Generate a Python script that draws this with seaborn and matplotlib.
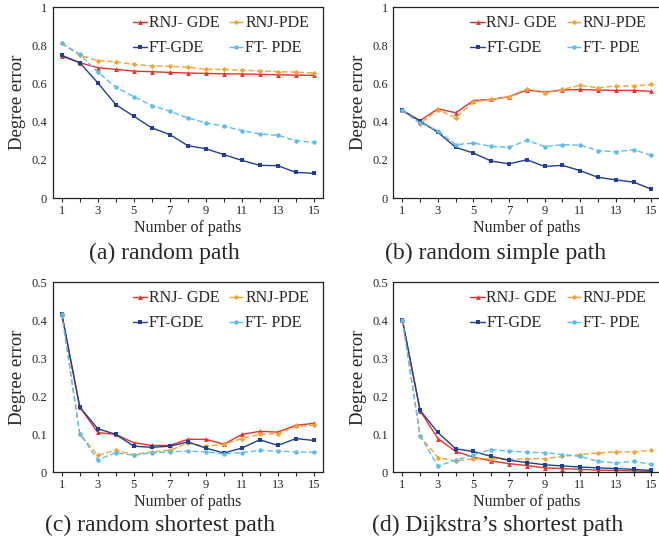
import numpy as np
import pandas as pd
import matplotlib
matplotlib.use("Agg")
import matplotlib.pyplot as plt
import seaborn as sns

paths = list(range(1, 16))
series_names = ["RNJ- GDE", "RNJ-PDE", "FT-GDE", "FT- PDE"]

# (a) random path
a_rnj_gde = [0.744, 0.709, 0.683, 0.674, 0.665, 0.662, 0.658, 0.655, 0.653, 0.651, 0.650, 0.648, 0.646, 0.644, 0.643]
a_rnj_pde = [0.810, 0.748, 0.720, 0.714, 0.700, 0.693, 0.690, 0.686, 0.674, 0.674, 0.669, 0.667, 0.662, 0.660, 0.655]
a_ft_gde = [0.748, 0.709, 0.604, 0.490, 0.429, 0.368, 0.333, 0.275, 0.259, 0.228, 0.198, 0.172, 0.170, 0.135, 0.130]
a_ft_pde = [0.810, 0.753, 0.660, 0.581, 0.531, 0.485, 0.455, 0.420, 0.394, 0.377, 0.354, 0.336, 0.329, 0.301, 0.292]

# (b) random simple path
b_rnj_gde = [0.459, 0.406, 0.468, 0.447, 0.511, 0.517, 0.531, 0.566, 0.555, 0.566, 0.569, 0.566, 0.564, 0.564, 0.559]
b_rnj_pde = [0.459, 0.390, 0.464, 0.420, 0.504, 0.517, 0.531, 0.573, 0.552, 0.569, 0.590, 0.578, 0.587, 0.587, 0.595]
b_ft_gde = [0.459, 0.403, 0.345, 0.266, 0.236, 0.194, 0.180, 0.201, 0.166, 0.172, 0.144, 0.109, 0.096, 0.084, 0.047]
b_ft_pde = [0.459, 0.394, 0.354, 0.280, 0.289, 0.271, 0.266, 0.303, 0.270, 0.280, 0.277, 0.249, 0.243, 0.254, 0.224]

# (c) random shortest path
c_rnj_gde = [0.417, 0.171, 0.104, 0.099, 0.077, 0.070, 0.070, 0.086, 0.086, 0.073, 0.099, 0.107, 0.105, 0.123, 0.128]
c_rnj_pde = [0.417, 0.101, 0.044, 0.057, 0.046, 0.053, 0.057, 0.076, 0.068, 0.073, 0.088, 0.099, 0.101, 0.120, 0.123]
c_ft_gde = [0.417, 0.171, 0.114, 0.099, 0.068, 0.065, 0.068, 0.079, 0.063, 0.050, 0.063, 0.085, 0.070, 0.088, 0.083]
c_ft_pde = [0.417, 0.101, 0.032, 0.051, 0.044, 0.051, 0.053, 0.055, 0.053, 0.048, 0.051, 0.057, 0.055, 0.053, 0.052]

# (d) Dijkstra's shortest path
d_rnj_gde = [0.401, 0.161, 0.088, 0.054, 0.039, 0.029, 0.022, 0.017, 0.011, 0.009, 0.007, 0.005, 0.004, 0.003, 0.001]
d_rnj_pde = [0.401, 0.095, 0.038, 0.029, 0.035, 0.035, 0.033, 0.035, 0.035, 0.041, 0.046, 0.050, 0.053, 0.053, 0.057]
d_ft_gde = [0.401, 0.162, 0.104, 0.061, 0.054, 0.041, 0.031, 0.025, 0.019, 0.016, 0.013, 0.011, 0.009, 0.007, 0.004]
d_ft_pde = [0.401, 0.095, 0.016, 0.031, 0.046, 0.059, 0.055, 0.052, 0.051, 0.046, 0.041, 0.028, 0.024, 0.028, 0.020]

captions = ["(a) random path", "(b) random simple path",
            "(c) random shortest path", "(d) Dijkstra\u2019s shortest path"]
panels = [
    [a_rnj_gde, a_rnj_pde, a_ft_gde, a_ft_pde],
    [b_rnj_gde, b_rnj_pde, b_ft_gde, b_ft_pde],
    [c_rnj_gde, c_rnj_pde, c_ft_gde, c_ft_pde],
    [d_rnj_gde, d_rnj_pde, d_ft_gde, d_ft_pde],
]
ymax = [1.0, 1.0, 0.5, 0.5]

colors = ["#E8322B", "#F5A236", "#1F3F95", "#5BBDEB"]
markers = ["^", "D", "s", "o"]
styles = ["-", "--", "-", "--"]
msizes = [3.5, 2.8, 3.2, 3.2]

sns.set_style("ticks")
plt.rcParams['font.family'] = ['Liberation Serif', 'DejaVu Serif']

fig = plt.figure(figsize=(6.59, 5.46), dpi=100)

# axes boxes (left, bottom, width, height) in figure fraction
boxes = [
    (0.080, 0.637, 0.410, 0.350),
    (0.597, 0.637, 0.405, 0.350),
    (0.080, 0.1355, 0.410, 0.348),
    (0.597, 0.1355, 0.405, 0.348),
]
caption_pos = [(0.25, 0.536), (0.752, 0.536), (0.243, 0.037), (0.755, 0.037)]

for i in range(4):
    ax = fig.add_axes(boxes[i])
    for j in range(4):
        sns.lineplot(x=paths, y=panels[i][j], ax=ax, color=colors[j],
                     marker=markers[j], markersize=msizes[j], markeredgewidth=0,
                     linestyle=styles[j], linewidth=1.0, label=series_names[j])
    for line, st in zip(ax.get_lines(), styles):
        if st == "--":
            line.set_dashes((4, 2))
    ax.set_xlim(0.5, 15.5)
    ax.set_ylim(0, ymax[i])
    ax.set_xticks(paths)
    ax.set_xticklabels([str(p) if p % 2 == 1 else "" for p in paths], fontsize=9)
    if ymax[i] == 1.0:
        ax.set_yticks([0, 0.2, 0.4, 0.6, 0.8, 1.0])
        ax.set_yticklabels(["0", "0.2", "0.4", "0.6", "0.8", "1"], fontsize=9)
    else:
        ax.set_yticks([0, 0.1, 0.2, 0.3, 0.4, 0.5])
        ax.set_yticklabels(["0", "0.1", "0.2", "0.3", "0.4", "0.5"], fontsize=9)
    ax.tick_params(axis='x', direction='out', length=3, width=0.8, pad=2)
    ax.tick_params(axis='y', length=0, pad=4)
    for sp in ax.spines.values():
        sp.set_linewidth(0.9)
        sp.set_color("#222222")
    ax.set_xlabel("Number of paths", fontsize=11.5, labelpad=2)
    ax.set_ylabel("Degree error", fontsize=13.5, labelpad=4)
    # row-wise legend order: RNJ-GDE, RNJ-PDE / FT-GDE, FT-PDE
    handles, labels = ax.get_legend_handles_labels()
    order = [0, 2, 1, 3]
    ax.legend([handles[k] for k in order], [labels[k] for k in order],
              ncol=2, frameon=False, loc="upper right", bbox_to_anchor=(0.99, 1.015),
              fontsize=11.5, handlelength=0.9, handletextpad=0.1, columnspacing=0.6,
              labelspacing=0.55, borderaxespad=0.3)
    fig.text(caption_pos[i][0], caption_pos[i][1], captions[i],
             fontsize=17, ha="center", va="center")

fig.savefig("out.png", dpi=100)
